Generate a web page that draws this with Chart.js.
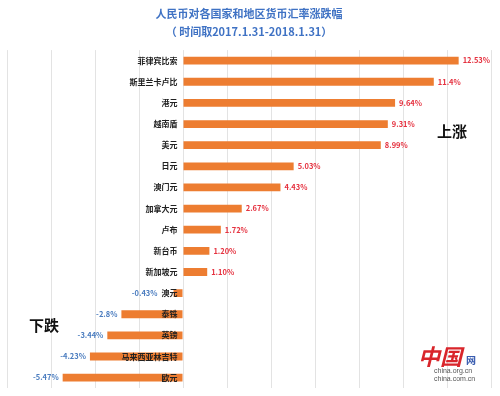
<!DOCTYPE html>
<html>
<head>
<meta charset="utf-8">
<script src="https://cdn.jsdelivr.net/npm/chart.js@4/dist/chart.umd.min.js"></script>
<style>
  html, body { margin: 0; padding: 0; background: #fff; }
  #wrap { width: 500px; height: 396px; }
</style>
</head>
<body>
<div id="wrap"><canvas id="myChart" width="500" height="396"></canvas></div>
<script>
let currencies = ["菲律宾比索", "斯里兰卡卢比", "港元", "越南盾", "美元", "日元", "澳门元", "加拿大元",
    "卢布", "新台币", "新加坡元", "澳元", "泰铢", "英镑", "马来西亚林吉特", "欧元"];
let values = [12.53, 11.4, 9.64, 9.31, 8.99, 5.03, 4.43, 2.67, 1.72, 1.20, 1.10, -0.43, -2.8, -3.44, -4.23, -5.47];
let valueText = ["12.53%", "11.4%", "9.64%", "9.31%", "8.99%", "5.03%", "4.43%", "2.67%",
    "1.72%", "1.20%", "1.10%", "-0.43%", "-2.8%", "-3.44%", "-4.23%", "-5.47%"];
let titleLines = ["人民币对各国家和地区货币汇率涨跌幅", "（ 时间取2017.1.31-2018.1.31）"];

const cjk = '"Noto Sans CJK SC", "Noto Sans", sans-serif';
const labelFont = 'bold 8px ' + cjk;

// value labels at the end of each bar
const barLabels = {
    id: 'barLabels',
    afterDatasetsDraw(chart) {
        const ctx = chart.ctx;
        const meta = chart.getDatasetMeta(0);
        const labelEnd = chart.scales.x.getPixelForValue(-0.25);
        ctx.save();
        ctx.textBaseline = 'middle';
        meta.data.forEach((bar, i) => {
            let neg = values[i] < 0;
            let x = bar.x + 4;
            if (neg) {
                // keep clear of the category name sitting at the zero line
                ctx.font = labelFont;
                let nameLeft = labelEnd - ctx.measureText(currencies[i]).width;
                x = Math.min(bar.x, nameLeft) - 4;
            }
            ctx.font = 'bold 7.5px ' + cjk;
            ctx.fillStyle = neg ? '#4a7cbf' : '#e5313f';
            ctx.textAlign = neg ? 'right' : 'left';
            ctx.fillText(valueText[i], x, bar.y);
        });
        ctx.restore();
    }
};

// 上涨 / 下跌 notes and the logo
const notes = {
    id: 'notes',
    afterDraw(chart) {
        const ctx = chart.ctx;
        ctx.save();
        ctx.fillStyle = '#111';
        ctx.font = 'bold 15px ' + cjk;
        ctx.textAlign = 'center';
        ctx.textBaseline = 'middle';
        ctx.fillText('上涨', 452, 131);
        ctx.fillText('下跌', 44, 325);

        ctx.textAlign = 'left';
        ctx.textBaseline = 'alphabetic';
        ctx.fillStyle = '#d9252b';
        ctx.font = 'italic bold 22px ' + cjk;
        ctx.fillText('中国', 418, 365);
        ctx.fillStyle = '#3a5db0';
        ctx.font = 'bold 10px ' + cjk;
        ctx.fillText('网', 466, 364);
        ctx.fillStyle = '#555';
        ctx.font = '7px "Liberation Sans", Arial, sans-serif';
        ctx.fillText('china.org.cn', 434, 373);
        ctx.fillText('china.com.cn', 434, 381);
        ctx.restore();
    }
};

let ctx = document.getElementById("myChart").getContext('2d');
let myChart = new Chart(ctx, {
    type: 'bar',
    data: {
        labels: currencies,
        datasets: [{
            data: values,
            backgroundColor: '#ed7d31',
            borderWidth: 0,
            categoryPercentage: 1,
            barPercentage: 0.37
        }]
    },
    options: {
        indexAxis: 'y',
        responsive: false,
        animation: false,
        layout: { padding: { left: 7, right: 9, bottom: 0, top: 0 } },
        plugins: {
            legend: { display: false },
            tooltip: { enabled: false },
            title: {
                display: true,
                text: titleLines,
                color: '#3f72c4',
                font: { family: cjk, size: 11, weight: 'bold', lineHeight: 1.64 },
                padding: { top: 5, bottom: 9 }
            }
        },
        scales: {
            x: {
                min: -8,
                max: 14,
                ticks: { display: false, stepSize: 2 },
                grid: { color: '#e3e3e3', drawTicks: false },
                border: { display: false }
            },
            y: {
                position: { x: -0.25 },
                grid: { display: false },
                border: { display: false },
                ticks: { z: 1, color: '#222', font: { family: cjk, size: 8, weight: 'bold' } }
            }
        }
    },
    plugins: [barLabels, notes]
});
</script>
</body>
</html>
